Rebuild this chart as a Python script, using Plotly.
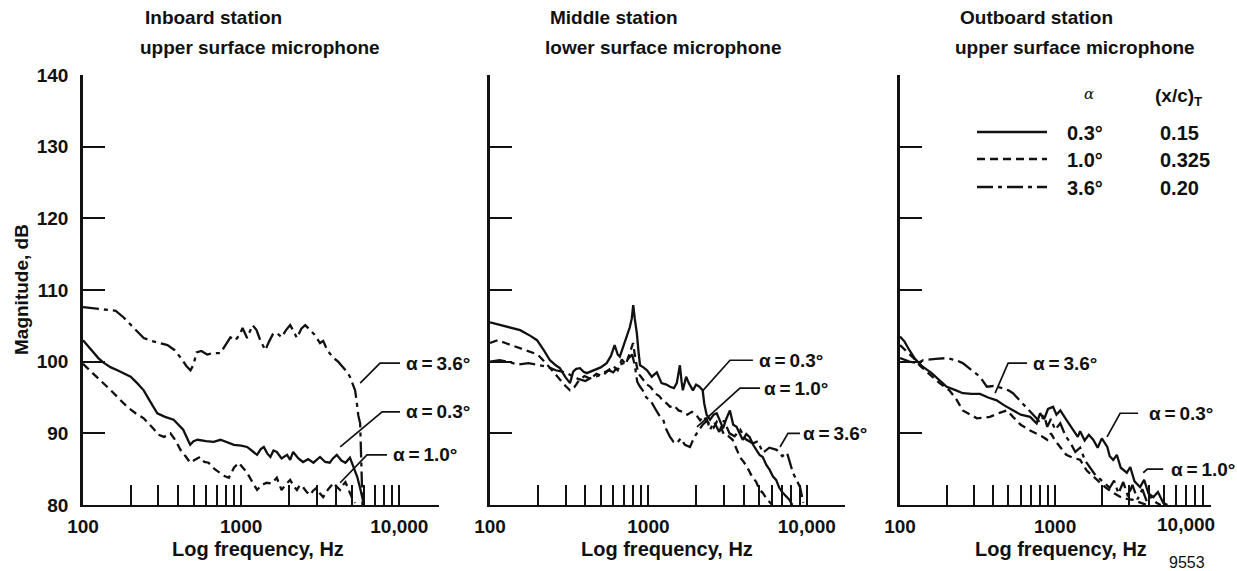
import numpy as np
import plotly.graph_objects as go

# ---------------- data (frequency Hz, magnitude dB) ----------------
# Panel 1: Inboard station, upper surface microphone
p1_a03 = [(100,103.0),(110,101.9),(125,100.5),(134,99.9),(150,99.2),(165,98.8),(185,98.3),(200,97.9),
          (220,97.0),(242,96.0),(265,94.5),(295,92.8),(330,92.3),(374,91.9),(430,90.5),(476,88.4),
          (500,88.9),(530,89.1),(600,88.9),(670,88.8),(740,89.1),(820,88.7),(900,88.4),(1000,88.3),
          (1090,88.1),(1180,87.5),(1260,87.0),(1330,87.8),(1390,88.1),(1460,87.2),(1530,86.7),
          (1600,87.6),(1680,87.4),(1800,86.5),(1950,87.0),(2040,86.3),(2130,87.4),(2300,86.5),
          (2460,86.0),(2650,86.4),(2860,85.9),(3000,86.3),(3150,86.7),(3400,86.0),(3630,85.9),
          (3800,86.5),(4020,87.0),(4300,86.2),(4560,85.9),(4870,86.6),(5100,85.5),(5420,83.9),
          (5700,82.0),(5930,80.3)]
p1_a10 = [(100,99.7),(116,98.4),(130,97.3),(150,96.0),(170,94.8),(190,93.7),(215,92.8),(242,92.1),
          (280,90.6),(300,89.8),(325,89.5),(357,90.0),(385,89.0),(413,87.7),(445,86.8),(476,85.9),
          (510,86.3),(550,86.7),(585,86.0),(622,85.9),(680,85.0),(740,84.5),(790,84.0),(835,83.8),
          (870,84.6),(900,85.2),(965,85.9),(1020,85.3),(1090,84.5),(1170,83.3),(1260,82.1),
          (1350,82.8),(1450,83.1),(1560,83.0),(1680,83.8),(1740,82.9),(1800,82.1),(1920,82.9),
          (2040,83.5),(2150,82.6),(2250,82.1),(2350,82.8),(2460,82.5),(2600,81.8),(2730,81.4),
          (2850,82.0),(3000,82.4),(3150,81.6),(3300,81.1),(3550,82.2),(3840,83.1),(4000,82.6),
          (4220,82.1),(4400,82.8),(4560,83.2),(4800,82.0),(5000,81.1),(5250,80.3)]
p1_a36 = [(100,107.6),(120,107.4),(140,107.3),(161,107.1),(180,106.2),(200,105.2),(222,104.2),
          (242,103.3),(270,102.9),(300,102.6),(342,102.3),(380,101.6),(420,100.4),(450,99.4),
          (478,98.8),(500,99.6),(522,101.3),(560,101.5),(609,101.0),(670,101.2),(740,101.2),
          (790,102.2),(855,103.4),(920,103.0),(980,103.8),(1020,104.7),(1090,103.3),(1180,105.1),
          (1250,104.4),(1320,103.0),(1420,101.6),(1500,102.8),(1600,104.0),(1700,103.9),(1800,103.4),
          (1920,104.4),(2040,105.1),(2150,104.2),(2250,103.3),(2400,104.6),(2540,105.1),(2730,104.4),
          (2900,103.8),(3150,102.6),(3300,102.9),(3500,101.6),(3800,100.6),(4100,100.0),(4400,99.2),
          (4650,98.6),(4870,97.9),(5050,97.1),(5250,96.0),(5400,94.0),(5500,92.5),(5650,91.4),
          (5720,88.0),(5800,84.0),(5850,80.0)]

# Panel 2: Middle station, lower surface microphone
p2_a03 = [(100,105.5),(120,105.0),(155,104.4),(180,103.6),(198,103.0),(220,101.5),(239,100.2),
          (260,99.5),(276,99.1),(300,97.8),(320,97.0),(335,98.6),(350,99.0),(370,99.1),(390,98.6),
          (408,98.4),(447,98.8),(500,99.2),(545,99.8),(580,100.8),(612,102.3),(640,101.0),(660,100.7),
          (690,102.0),(720,103.0),(763,104.8),(785,106.0),(802,107.9),(820,106.0),(845,104.0),
          (865,101.5),(885,99.5),(930,99.2),(980,98.8),(1050,97.9),(1130,98.5),(1210,97.0),(1300,96.8),
          (1370,96.5),(1450,96.3),(1510,97.0),(1580,99.5),(1620,97.2),(1650,96.0),(1730,97.9),
          (1800,97.0),(1910,96.0),(2000,96.8),(2100,96.5),(2200,96.0),(2250,94.2),(2330,92.6),
          (2450,91.9),(2580,92.6),(2700,92.8),(2830,91.6),(2960,90.7),(3100,92.0),(3270,93.2),
          (3430,91.2),(3600,90.9),(3780,89.9),(3940,89.1),(4150,89.9),(4350,89.5),(4580,88.4),
          (4800,87.7),(5030,87.0),(5270,86.7),(5550,85.6),(5830,84.9),(6100,84.0),(6400,83.5),
          (6700,82.4),(7050,81.7),(7400,81.2),(7780,80.7),(8100,80.0)]
p2_a10 = [(100,102.6),(112,103.0),(125,102.6),(140,102.2),(160,101.8),(180,101.4),(200,101.0),
          (225,99.8),(250,98.6),(275,97.5),(300,96.6),(320,96.0),(340,96.4),(365,97.4),(395,98.0),
          (430,97.6),(470,98.3),(510,98.0),(555,98.8),(600,99.4),(640,98.8),(680,100.3),(720,99.6),
          (760,101.0),(800,102.6),(825,100.6),(860,98.4),(890,98.0),(930,97.5),(980,96.8),(1030,96.5),
          (1100,95.6),(1170,95.2),(1240,94.5),(1300,94.2),(1370,93.7),(1450,93.9),(1550,93.2),
          (1650,93.0),(1760,92.6),(1880,93.0),(2000,92.6),(2120,91.8),(2230,92.4),(2350,91.6),
          (2450,91.2),(2580,90.8),(2700,91.6),(2850,91.0),(3000,89.8),(3200,89.6),(3400,89.1),
          (3600,87.8),(3800,86.6),(4000,86.0),(4200,85.3),(4500,84.0),(4800,83.2),(5000,82.2),
          (5270,81.7),(5600,80.8),(6000,80.1)]
p2_a36 = [(100,100.0),(115,100.2),(130,100.0),(150,99.6),(175,99.8),(200,99.6),(230,99.3),(260,98.8),
          (300,98.5),(330,98.0),(360,97.6),(400,97.3),(440,97.8),(480,98.0),(520,98.4),(560,98.8),
          (600,98.5),(650,99.5),(700,99.8),(750,100.5),(790,101.0),(820,99.5),(850,97.2),(880,96.6),
          (920,96.0),(970,95.0),(1030,94.6),(1100,93.5),(1170,92.5),(1240,91.9),(1300,90.5),
          (1370,89.5),(1440,88.8),(1510,88.6),(1600,89.3),(1700,88.4),(1830,88.1),(1950,89.5),
          (2050,90.2),(2200,91.2),(2350,91.8),(2450,90.5),(2600,91.6),(2800,90.2),(3000,91.8),
          (3250,90.0),(3500,89.6),(3800,90.5),(4100,89.2),(4570,88.6),(4900,88.9),(5280,87.3),
          (5800,88.0),(6450,87.7),(7000,86.8),(7500,87.3),(8170,84.5),(9060,82.5),(9500,80.3)]

# Panel 3: Outboard station, upper surface microphone
p3_a03 = [(100,103.5),(107,102.8),(115,101.6),(125,100.4),(140,99.3),(160,98.4),(180,97.4),(200,96.5),
          (230,96.0),(254,95.6),(290,95.5),(328,95.5),(370,95.0),(420,94.6),(470,93.9),(535,93.2),
          (600,92.6),(690,92.3),(760,91.4),(800,92.8),(850,92.0),(900,93.4),(970,93.7),(1020,92.6),
          (1080,93.2),(1180,91.9),(1300,90.6),(1400,89.5),(1450,90.3),(1550,89.0),(1650,89.8),
          (1760,89.1),(1880,88.0),(2000,89.3),(2170,88.1),(2250,86.8),(2370,86.3),(2500,87.0),
          (2650,85.2),(2900,84.5),(3050,85.3),(3250,83.3),(3530,82.5),(3750,83.5),(4000,81.6),
          (4300,81.1),(4600,81.8),(4980,80.3),(5300,80.0)]
p3_a10 = [(100,102.3),(110,101.5),(121,100.6),(135,99.4),(155,98.2),(180,97.0),(208,96.0),(230,94.8),
          (254,93.2),(285,92.6),(313,92.1),(350,92.2),(380,92.3),(430,92.8),(490,93.2),(535,92.3),
          (600,91.2),(690,90.4),(760,90.0),(820,89.6),(890,89.1),(940,90.0),(1000,89.0),(1080,88.0),
          (1180,87.0),(1300,86.6),(1450,86.3),(1600,84.8),(1860,83.5),(2100,82.5),(2370,81.7),
          (2700,81.0),(3180,80.7),(3600,80.3),(3900,80.0)]
p3_a36 = [(100,100.5),(115,100.0),(130,99.8),(141,100.2),(170,100.4),(200,100.5),(230,100.2),
          (254,99.8),(290,98.8),(328,97.9),(363,96.5),(400,96.6),(460,96.3),(500,96.0),(535,95.6),
          (580,94.8),(620,94.2),(690,93.0),(758,92.1),(800,91.5),(850,92.5),(890,90.9),(940,92.0),
          (1000,90.5),(1080,91.4),(1170,89.6),(1260,88.6),(1350,87.4),(1450,88.0),(1560,86.2),
          (1680,85.2),(1800,84.3),(1950,83.6),(2100,83.0),(2250,82.4),(2400,83.4),(2560,81.6),
          (2750,83.2),(2950,81.2),(3150,82.8),(3400,80.8),(3650,82.2),(3900,80.5),(4200,81.2),
          (4500,80.3),(4800,80.0)]

panel_titles = [("Inboard station", "upper surface microphone"),
                ("Middle station", "lower surface microphone"),
                ("Outboard station", "upper surface microphone")]
y_ticks = [80, 90, 100, 110, 120, 130, 140]
x_major = [100, 1000, 10000]
x_major_text = ["100", "1000", "10,000"]
x_minor = [200, 300, 400, 500, 600, 700, 800, 900, 2000, 3000, 4000, 5000, 6000, 7000, 8000, 9000]

legend_alpha = ["0.3°", "1.0°", "3.6°"]
legend_xc = ["0.15", "0.325", "0.20"]

# curve labels: (panel, text, leader points [(log10 f, dB)...], text anchor (log10 f, dB))
TS = "\u2009"
curve_labels = [
    (1, "α" + TS + "=" + TS + "3.6°", [(3.752, 97.0), (3.878, 99.8), (4.004, 99.8)], (4.030, 99.8)),
    (1, "α" + TS + "=" + TS + "0.3°", [(3.626, 88.1), (3.891, 93.0), (4.004, 93.0)], (4.030, 93.0)),
    (1, "α" + TS + "=" + TS + "1.0°", [(3.626, 83.1), (3.795, 87.0), (3.922, 87.0)], (3.948, 87.0)),
    (2, "α" + TS + "=" + TS + "0.3°", [(3.345, 96.0), (3.515, 100.2), (3.660, 100.2)], (3.686, 100.2)),
    (2, "α" + TS + "=" + TS + "1.0°", [(3.307, 90.9), (3.578, 96.3), (3.705, 96.3)], (3.717, 96.3)),
    (2, "α" + TS + "=" + TS + "3.6°", [(3.831, 88.1), (3.881, 90.0), (3.957, 90.0)], (3.965, 90.0)),
    (3, "α" + TS + "=" + TS + "3.6°", [(2.613, 95.6), (2.697, 99.8), (2.819, 99.8)], (2.846, 99.8)),
    (3, "α" + TS + "=" + TS + "0.3°", [(3.335, 89.5), (3.419, 92.8), (3.535, 92.8)], (3.594, 92.8)),
    (3, "α" + TS + "=" + TS + "1.0°", [(3.568, 84.5), (3.594, 85.0), (3.697, 85.0)], (3.736, 85.0)),
]

# ---------------- styling ----------------
W, H = 1237, 571
FONT = "Liberation Sans"
INK = "#111111"
STYLES = {"a03": "solid", "a10": "8px,5px", "a36": "16px,5px,4px,5px"}
series = [
    (1, p1_a03, "a03"), (1, p1_a10, "a10"), (1, p1_a36, "a36"),
    (2, p2_a03, "a03"), (2, p2_a10, "a10"), (2, p2_a36, "a36"),
    (3, p3_a03, "a03"), (3, p3_a10, "a10"), (3, p3_a36, "a36"),
]

def px(x):
    return x / W

def py(y):
    return (H - y) / H

x_domains = [(px(83), px(439)), (px(490), px(845)), (px(900), px(1211))]
x_ranges = [(2, 4.2505), (2, 4.241), (2, 4.005)]
y_domain = (py(505), py(75))

fig = go.Figure()

for panel, data, key in series:
    f = [d[0] for d in data]
    v = [d[1] for d in data]
    ax = "" if panel == 1 else str(panel)
    fig.add_trace(go.Scatter(x=f, y=v, mode="lines", xaxis="x" + ax, yaxis="y" + ax,
                             line=dict(color=INK, width=2.3, dash=STYLES[key]),
                             showlegend=False, hoverinfo="skip"))

annotations = []
for panel, text, pts, anchor in curve_labels:
    ax = "" if panel == 1 else str(panel)
    fig.add_trace(go.Scatter(x=[10 ** p[0] for p in pts], y=[p[1] for p in pts], mode="lines",
                             xaxis="x" + ax, yaxis="y" + ax,
                             line=dict(color=INK, width=1.7), showlegend=False, hoverinfo="skip"))
    annotations.append(dict(x=anchor[0], y=anchor[1], xref="x" + ax, yref="y" + ax, text=text,
                            showarrow=False, xanchor="left", yanchor="middle",
                            font=dict(family=FONT, size=19, color=INK, weight="bold")))

layout = dict(width=W, height=H, margin=dict(l=0, r=0, t=0, b=0, autoexpand=False),
              paper_bgcolor="white", plot_bgcolor="white", showlegend=False)

for i in range(3):
    sfx = "" if i == 0 else str(i + 1)
    last = (i == 2)
    # the last panel's axis ends exactly at 10,000; its label is placed as text below
    major_vals = x_major[:-1] if last else x_major
    major_text = x_major_text[:-1] if last else x_major_text
    minor_vals = x_minor + [x_major[-1]] if last else x_minor
    layout["xaxis" + sfx] = dict(
        type="log", domain=x_domains[i], range=list(x_ranges[i]), anchor="y" + sfx,
        automargin=False,
        showline=True, linecolor=INK, linewidth=1.8, showgrid=False, zeroline=False,
        tickmode="array", tickvals=major_vals, ticktext=major_text,
        ticks="inside", ticklen=20, tickwidth=1.6, tickcolor=INK,
        ticklabelstandoff=3,
        tickfont=dict(family=FONT, size=19, color=INK, weight="bold"),
        minor=dict(tickmode="array", tickvals=minor_vals, ticks="inside", ticklen=20,
                   tickwidth=1.6, tickcolor=INK, showgrid=False),
    )
    layout["yaxis" + sfx] = dict(
        domain=y_domain, range=[80, 140], anchor="x" + sfx,
        automargin=False,
        showline=True, linecolor=INK, linewidth=2.5, showgrid=False, zeroline=False,
        tickmode="array", tickvals=y_ticks, showticklabels=(i == 0),
        ticks="inside", ticklen=22, tickwidth=1.6, tickcolor=INK,
        ticklabelstandoff=8,
        tickfont=dict(family=FONT, size=19, color=INK, weight="bold"),
    )

annotations.append(dict(x=px(1186), y=py(524), xref="paper", yref="paper", text=x_major_text[-1],
                        showarrow=False, xanchor="center", yanchor="middle",
                        font=dict(family=FONT, size=19, color=INK, weight="bold")))

title_x = [143, 548, 958]
for i, (t1, t2) in enumerate(panel_titles):
    annotations.append(dict(x=px(title_x[i]), y=py(18), xref="paper", yref="paper", text=t1,
                            showarrow=False, xanchor="left", yanchor="middle",
                            font=dict(family=FONT, size=19, color=INK, weight="bold")))
    annotations.append(dict(x=px(title_x[i] - 5), y=py(47), xref="paper", yref="paper", text=t2,
                            showarrow=False, xanchor="left", yanchor="middle",
                            font=dict(family=FONT, size=19, color=INK, weight="bold")))

xlabel_x = [258, 667, 1061]
for xc in xlabel_x:
    annotations.append(dict(x=px(xc), y=py(549), xref="paper", yref="paper", text="Log frequency, Hz",
                            showarrow=False, xanchor="center", yanchor="middle",
                            font=dict(family=FONT, size=20, color=INK, weight="bold")))

annotations.append(dict(x=px(21), y=py(290), xref="paper", yref="paper", text="Magnitude, dB",
                        showarrow=False, textangle=-90, xanchor="center", yanchor="middle",
                        font=dict(family=FONT, size=19, color=INK, weight="bold")))

annotations.append(dict(x=px(1187), y=py(562), xref="paper", yref="paper", text="9553",
                        showarrow=False, xanchor="center", yanchor="middle",
                        font=dict(family=FONT, size=16, color=INK)))

# legend (inside panel 3)
annotations.append(dict(x=px(1089), y=py(94), xref="paper", yref="paper", text="<i>α</i>",
                        showarrow=False, xanchor="center", yanchor="middle",
                        font=dict(family="DejaVu Serif", size=15, color=INK)))
annotations.append(dict(x=px(1153), y=py(97), xref="paper", yref="paper", text="(x/c)<sub>T</sub>",
                        showarrow=False, xanchor="left", yanchor="middle",
                        font=dict(family=FONT, size=19, color=INK, weight="bold")))
shapes = []
row_y = [132, 159, 187]
legend_keys = ["a03", "a10", "a36"]
for r in range(3):
    shapes.append(dict(type="line", xref="paper", yref="paper", x0=px(977), x1=px(1047),
                       y0=py(row_y[r]), y1=py(row_y[r]),
                       line=dict(color=INK, width=2.3, dash=STYLES[legend_keys[r]])))
    annotations.append(dict(x=px(1065), y=py(row_y[r] + 1), xref="paper", yref="paper",
                            text=legend_alpha[r], showarrow=False, xanchor="left", yanchor="middle",
                            font=dict(family=FONT, size=20, color=INK, weight="bold")))
    annotations.append(dict(x=px(1158), y=py(row_y[r] + 1), xref="paper", yref="paper",
                            text=legend_xc[r], showarrow=False, xanchor="left", yanchor="middle",
                            font=dict(family=FONT, size=20, color=INK, weight="bold")))

layout["annotations"] = annotations
layout["shapes"] = shapes
fig.update_layout(**layout)
fig.write_html("out.html")
